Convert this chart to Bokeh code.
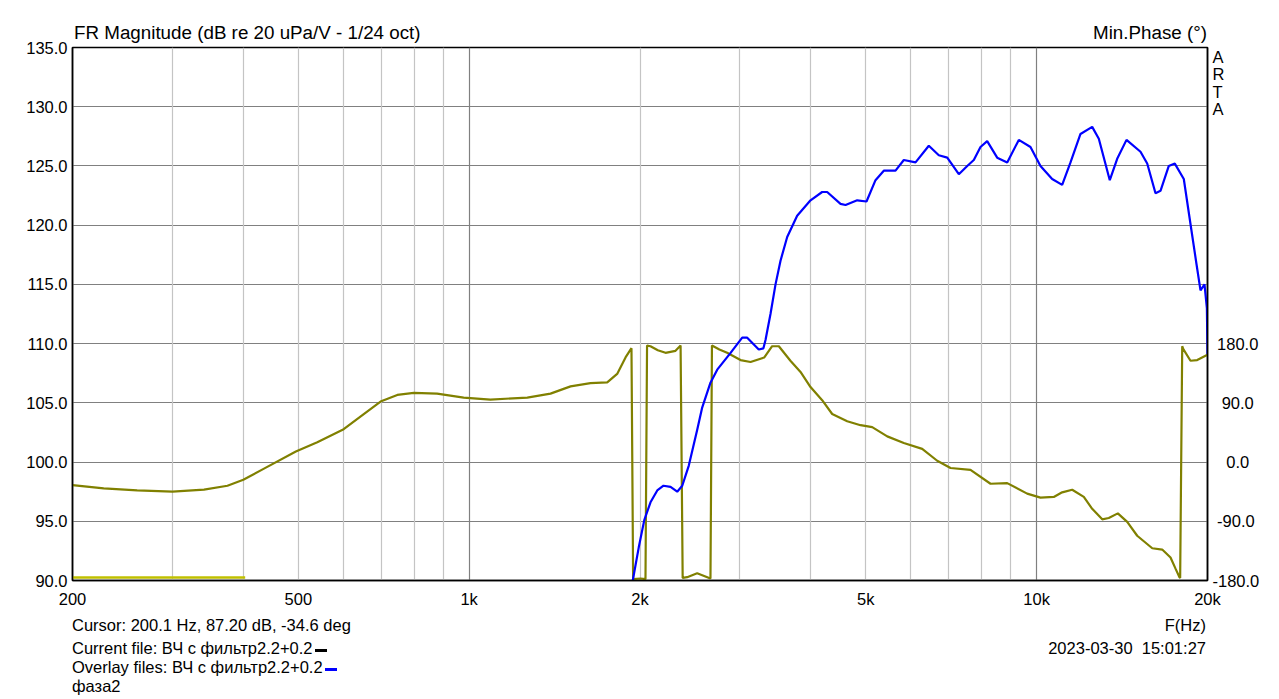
from bokeh.plotting import figure
from bokeh.layouts import column
from bokeh.models import Range1d, LinearAxis, FixedTicker, Grid, NumeralTickFormatter, Div
from bokeh.embed import file_html
from bokeh.resources import INLINE

# ---------------- data ----------------
# overlay magnitude (blue), dB
mag_freq = [1925, 1942, 1990, 2035, 2087, 2145, 2200, 2264, 2326, 2374, 2438, 2522, 2574,
            2662, 2736, 2886, 3028, 3090, 3238, 3300, 3328, 3396, 3466, 3537, 3634, 3784,
            3995, 4188, 4274, 4512, 4605, 4828, 5014, 5200, 5378, 5640, 5833, 6117, 6456,
            6723, 6957, 7292, 7545, 7749, 7962, 8181, 8520, 8874, 9301, 9752, 10156, 10649,
            11090, 11472, 11946, 12527, 12868, 13454, 13864, 14398, 15240, 15660, 16196,
            16528, 17094, 17516, 18166, 18666, 19128, 19440, 19758, 19950, 20000]
mag_db = [89.5, 90.0, 92.8, 95.1, 96.6, 97.6, 98.0, 97.9, 97.5, 98.0, 99.7, 102.7, 104.6,
          106.7, 107.8, 109.2, 110.5, 110.5, 109.5, 109.6, 110.3, 112.5, 115.0, 117.0, 119.0,
          120.8, 122.1, 122.8, 122.8, 121.8, 121.7, 122.1, 122.0, 123.8, 124.6, 124.6, 125.5,
          125.3, 126.7, 125.9, 125.7, 124.3, 125.0, 125.5, 126.6, 127.1, 125.7, 125.3, 127.2,
          126.6, 125.0, 123.9, 123.4, 125.3, 127.7, 128.3, 127.3, 123.8, 125.6, 127.2, 126.2,
          125.2, 122.7, 122.9, 125.0, 125.2, 123.9, 120.1, 116.7, 114.5, 115.0, 113.0, 109.1]

# minimum phase (olive), degrees
phase_freq = [200, 227, 260, 300, 341, 375, 400, 435, 495, 540, 601, 652, 698, 747, 799, 878,
              978, 1090, 1266, 1391, 1509, 1636, 1751, 1823, 1886, 1932, 1945, 2004, 2045,
              2058, 2087, 2150, 2218, 2310, 2358, 2378, 2422, 2522, 2662, 2678, 2760, 2848,
              3007, 3132, 3312, 3419, 3513, 3682, 3836, 3995, 4188, 4362, 4636, 4894, 5131,
              5454, 5833, 6285, 6680, 7050, 7646, 8292, 8874, 9622, 10156, 10720, 11090,
              11552, 12108, 12527, 13048, 13398, 13900, 14440, 15036, 15984, 16643, 17214,
              17566, 17850, 17900, 18050, 18120, 18666, 19182, 20000]
phase_deg = [-35, -40, -43, -45, -42, -36, -27, -10, 16, 30, 50, 73, 92, 102, 105, 104,
             98, 95, 98, 104, 115, 120, 121, 134, 159, 173, -178, -177, -178,
             177, 176, 170, 166, 169, 177, -176, -175, -169, -177, 177, 171, 166,
             155, 152, 159, 176, 176, 154, 137, 114, 94, 73, 62, 56, 53,
             39, 29, 20, 2, -9, -12, -33, -32, -48, -54, -53, -46,
             -42, -53, -71, -87, -85, -78, -91, -112, -131, -133, -145,
             -162, -175, -176, 176, 172, 154, 155, 163]

# current file magnitude (yellow), dB
cur_freq = [200, 403]
cur_db = [90.25, 90.25]

x_ticks = [200, 500, 1000, 2000, 5000, 10000, 20000]
x_tick_labels = ["200", "500", "1k", "2k", "5k", "10k", "20k"]
grid_minor = [300, 400, 500, 600, 700, 800, 900, 2000, 3000, 4000, 5000, 6000, 7000, 8000, 9000]
grid_major = [1000, 10000]
mag_ticks = [90, 95, 100, 105, 110, 115, 120, 125, 130, 135]
phase_ticks = [-180, -90, 0, 90, 180]

title_left = "FR Magnitude (dB re 20 uPa/V - 1/24 oct)"
title_right = "Min.Phase (°)"
brand = "ARTA"
cursor_text = "Cursor: 200.1 Hz, 87.20 dB, -34.6 deg"
current_text = "Current file: ВЧ с фильтр2.2+0.2"
overlay_text = "Overlay files: ВЧ с фильтр2.2+0.2"
overlay_text2 = "фаза2"
xlabel_text = "F(Hz)"
date_text = "2023-03-30  15:01:27"

# ---------------- layout ----------------
X0, X1 = 200, 20000
Y0, Y1 = 90, 135
P0, P1 = -180, 630
W = 1271
TOP_H = 38
FL, FT, FW, FH = 72, 47, 1135, 533      # frame on the page
PLOT_BOTTOM = 612
BOT_H = 84
FONT = "Liberation Sans"
CSS_FONT = "'Liberation Sans', Arial, sans-serif"

def phase_at(py):
    return P0 + (FT + FH - py) / FH * (P1 - P0)

p = figure(width=W, height=PLOT_BOTTOM - TOP_H, x_axis_type="log",
           x_range=Range1d(X0, X1), y_range=Range1d(Y0, Y1),
           output_backend="svg", toolbar_location=None,
           min_border_left=FL, min_border_right=W - (FL + FW),
           min_border_top=FT - TOP_H, min_border_bottom=PLOT_BOTTOM - (FT + FH))
p.extra_y_ranges = {"phase": Range1d(P0, P1)}
p.background_fill_color = "white"
p.border_fill_color = None          # transparent, so the header text may overhang
p.outline_line_color = "black"
p.outline_line_width = 1.5

# axes
xa = p.xaxis[0]
xa.ticker = FixedTicker(ticks=x_ticks)
xa.major_label_overrides = {t: l for t, l in zip(x_ticks, x_tick_labels)}
ya = p.yaxis[0]
ya.ticker = FixedTicker(ticks=mag_ticks)
ya.formatter = NumeralTickFormatter(format="0.0")

# right axis: phase tick labels (padded to look centred) + the ARTA brand letters
pads = {-180: "", -90: "\u00a0", 0: "\u2007\u00a0", 90: "\u2007", 180: "\u00a0"}
brand_pos = [round(phase_at(57 + 17 * i)) for i in range(len(brand))]
right_overrides = {t: pads[t] + f"{t:.1f}" for t in phase_ticks}
right_overrides.update({pos: ch for pos, ch in zip(brand_pos, brand)})
ra = LinearAxis(y_range_name="phase", ticker=FixedTicker(ticks=phase_ticks + brand_pos),
                major_label_overrides=right_overrides)
p.add_layout(ra, "right")
for ax in (xa, ya, ra):
    ax.axis_line_color = "black"
    ax.axis_line_width = 1.5
    ax.major_tick_line_color = None
    ax.minor_tick_line_color = None
    ax.major_tick_out = 0
    ax.major_tick_in = 0
    ax.major_label_text_font = FONT
    ax.major_label_text_font_size = "16.5px"
    ax.major_label_text_color = "black"
xa.major_label_standoff = 9
ya.major_label_standoff = 5
ra.major_label_standoff = 5

# grids
p.xgrid.visible = False
p.ygrid.ticker = FixedTicker(ticks=mag_ticks[1:-1])
p.ygrid.grid_line_color = "#808080"
p.ygrid.grid_line_width = 1.2
p.add_layout(Grid(dimension=0, ticker=FixedTicker(ticks=grid_minor),
                  grid_line_color="#c4c4c4", grid_line_width=1.2))
p.add_layout(Grid(dimension=0, ticker=FixedTicker(ticks=grid_major),
                  grid_line_color="#808080", grid_line_width=1.2))

# curves
p.line(cur_freq, cur_db, line_color="#c0c000", line_width=2.5)
p.line(phase_freq, phase_deg, y_range_name="phase", line_color="#808000", line_width=2.2)
p.line(mag_freq, mag_db, line_color="#0000ff", line_width=2.2)

# ---------------- texts around the plot ----------------
def span(text, top, size="16.5px", left=None, right=None, extra=""):
    pos = f"left:{left}px;" if left is not None else f"right:{right}px;"
    return (f"<span style=\"position:absolute;{pos}top:{top}px;font-family:{CSS_FONT};"
            f"font-size:{size};line-height:20px;color:#000;white-space:pre;\">{text}{extra}</span>")

def dash(color):
    return (f"<span style=\"display:inline-block;width:12px;height:3px;background:{color};"
            f"vertical-align:middle;margin-left:2px;margin-bottom:-2px;\"></span>")

top_html = (f"<div style=\"position:relative;width:{W}px;height:{TOP_H}px;overflow:visible;\">"
            + span(title_left, 23, size="18.8px", left=74)
            + span(title_right, 23, size="18.8px", right=W - (FL + FW))
            + "</div>")
bot_html = (f"<div style=\"position:relative;width:{W}px;height:{BOT_H}px;\">"
            + span(cursor_text, 3, left=FL)
            + span(current_text, 26, left=FL, extra=dash("#000000"))
            + span(overlay_text, 45, left=FL, extra=dash("#0000ff"))
            + span(overlay_text2, 64, left=FL)
            + span(xlabel_text, 3, right=W - 1206)
            + span(date_text, 26, right=W - 1206)
            + "</div>")

top_div = Div(text=top_html, width=W, height=TOP_H, disable_math=True,
              styles={"margin": "0", "padding": "0", "overflow": "visible", "z-index": "5"})
bot_div = Div(text=bot_html, width=W, height=BOT_H, disable_math=True,
              styles={"margin": "0", "padding": "0"})

layout = column(top_div, p, bot_div, spacing=0)
open("out.html", "w").write(file_html(layout, INLINE))
